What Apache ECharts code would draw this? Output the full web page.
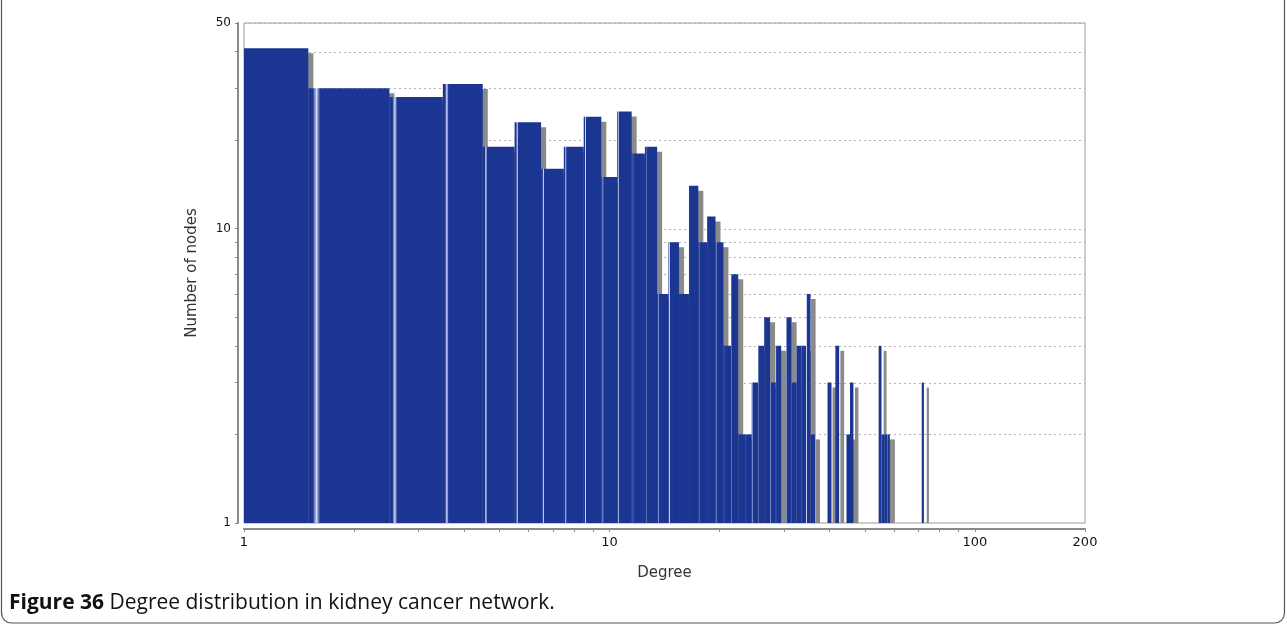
<!DOCTYPE html>
<html>
<head>
<meta charset="utf-8">
<script src="https://cdn.jsdelivr.net/npm/echarts@6/dist/echarts.min.js"></script>
<style>
html,body{margin:0;padding:0;background:#fff;}
#c{width:1287px;height:625px;}
</style>
</head>
<body>
<div id="c"></div>
<script>
// ---- data ----
const degrees = [1,2,3,4,5,6,7,8,9,10,11,12,13,14,15,16,17,18,19,20,21,22,23,24,25,26,27,28,29,31,32,33,34,35,36,40,42,45,46,55,56,57,58,72];
const counts  = [41,30,28,31,19,23,16,19,24,15,25,18,19,6,9,6,14,9,11,9,4,7,2,2,3,4,5,3,4,5,3,4,4,6,2,3,4,2,3,4,2,2,2,3];
const xTickValues = [1,2,3,4,5,6,7,8,9,10,20,30,40,50,60,70,80,90,100,200];
const xLabelValues = [1,10,100,200];
const yTickValues = [1,2,3,4,5,6,7,8,9,10,20,30,40,50];
const yLabelValues = [1,10,50];
const gridValues = [2,3,4,5,6,7,8,9,10,20,30,40,50];

const BAR = '#1a3692';
const SHADOW = '#8a8a8a';
const SH = 5;

function gridRender(params, api) {
  const cs = params.coordSys;
  const y = Math.round(api.coord([1, api.value(1)])[1]) + 0.5;
  return {type: 'line', shape: {x1: cs.x, y1: y, x2: cs.x + cs.width, y2: y},
    style: {stroke: '#b2b2b2', lineWidth: 1, lineDash: [2, 3]}};
}

function barRender(params, api) {
  const cs = params.coordSys;
  const d = api.value(0), v = api.value(1);
  let xl0 = api.coord([d - 0.5, v])[0];
  const xr = api.coord([d + 0.5, v])[0];
  const yt = api.coord([d, v])[1];
  const yb = api.coord([d, 1])[1];
  if (!isFinite(xl0)) xl0 = cs.x - 200;
  const xl = Math.max(xl0, cs.x);
  const grad = new echarts.graphic.LinearGradient(xl0, 0, xr, 0, [
    {offset: 0, color: BAR},
    {offset: 0.055, color: BAR},
    {offset: 0.1, color: '#d4d8f6'},
    {offset: 0.145, color: BAR},
    {offset: 1, color: BAR}
  ], true);
  return {
    type: 'group',
    children: [
      {type: 'rect', shape: {x: xl + SH, y: yt + SH, width: xr - xl, height: Math.max(0, yb - yt - SH)},
        style: {fill: SHADOW}},
      {type: 'rect', shape: {x: xl, y: yt, width: xr - xl, height: yb - yt},
        style: {fill: grad}}
    ]
  };
}

const chart = echarts.init(document.getElementById('c'), null, {renderer: 'canvas', width: 1287, height: 625});
const labelFont = 'DejaVu Sans';
chart.setOption({
  animation: false,
  backgroundColor: '#ffffff',
  grid: {left: 244, right: 202, top: 23, bottom: 102, show: true,
    borderColor: '#9a9a9a', borderWidth: 1, backgroundColor: 'transparent'},
  xAxis: {
    type: 'log', logBase: 10, min: 1, max: 200, offset: 6,
    name: 'Degree', nameLocation: 'middle', nameGap: 37,
    nameTextStyle: {fontFamily: labelFont, fontSize: 15, color: '#333'},
    axisLine: {show: true, lineStyle: {color: '#8a8a8a', width: 2}},
    axisTick: {show: true, customValues: xTickValues, length: 3, lineStyle: {color: '#8a8a8a'}},
    axisLabel: {customValues: xLabelValues, fontFamily: labelFont, fontSize: 13, color: '#111', margin: 7},
    splitLine: {show: false}, minorTick: {show: false}
  },
  yAxis: {
    type: 'log', logBase: 10, min: 1, max: 50, offset: 6,
    name: 'Number of nodes', nameLocation: 'middle', nameGap: 38, nameRotate: 90,
    nameTextStyle: {fontFamily: labelFont, fontSize: 15, color: '#333'},
    axisLine: {show: true, lineStyle: {color: '#8a8a8a', width: 2}},
    axisTick: {show: true, customValues: yTickValues, length: 3, lineStyle: {color: '#8a8a8a'}},
    axisLabel: {customValues: yLabelValues, fontFamily: labelFont, fontSize: 12, color: '#111', margin: 7},
    splitLine: {show: false}, minorTick: {show: false}
  },
  series: [
    {type: 'custom', z: 1, silent: true, data: gridValues.map(v => [1, v]), renderItem: gridRender},
    {type: 'custom', z: 2, silent: true, clip: true, data: degrees.map((d, i) => [d, counts[i]]), renderItem: barRender}
  ],
  graphic: [
    {type: 'rect', z: 100, silent: true, shape: {x: 1.5, y: -20, width: 1283, height: 643, r: 10},
      style: {fill: 'none', stroke: '#555', lineWidth: 1.2}},
    {type: 'text', z: 100, silent: true, style: {
      x: 9, y: 603, verticalAlign: 'middle', align: 'left',
      text: '{b|Figure 36} Degree distribution in kidney cancer network.',
      font: '21px "Open Sans"', fill: '#111',
      rich: {b: {fontWeight: 'bold', fontFamily: 'Open Sans', fontSize: 21, fill: '#111'}}
    }}
  ]
});
</script>
</body>
</html>
